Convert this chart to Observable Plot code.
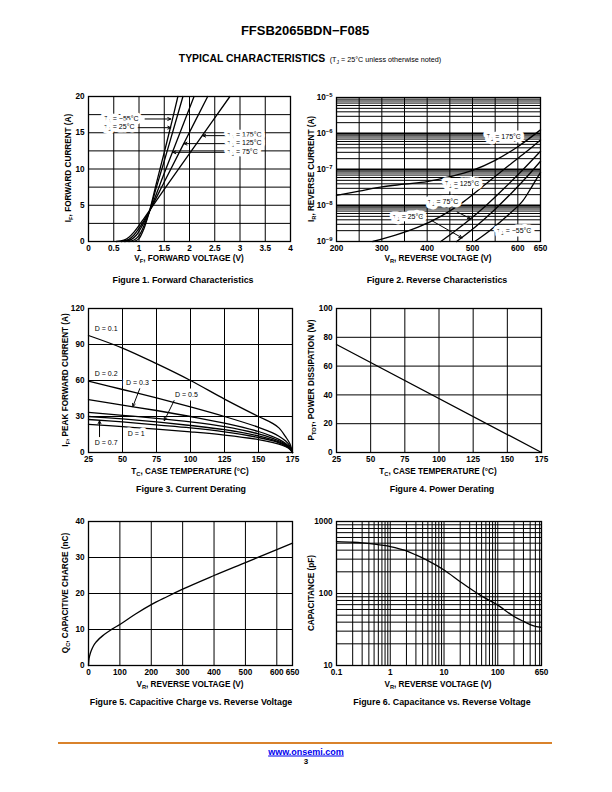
<!DOCTYPE html>
<html><head><meta charset="utf-8">
<script src="https://cdn.jsdelivr.net/npm/d3@7"></script>
<script src="https://cdn.jsdelivr.net/npm/@observablehq/plot@0.6"></script>
<style>
body{margin:0;background:#fff;}
#page{position:relative;width:612px;height:792px;font-family:"Liberation Sans",Arial,Helvetica,sans-serif;color:#000;overflow:hidden;}
.abs{position:absolute;white-space:nowrap;line-height:1;}
sub{font-size:70%;vertical-align:baseline;position:relative;top:0.35em;}
</style></head>
<body><div id="page"></div>
<script>
// ---------------- Figure 1: Forward characteristics ----------------
const f1V_m55 = [0.9, 1.0, 1.1, 1.2, 1.35, 1.5, 1.65, 1.77];
const f1I_m55 = [0, 0.4, 1.8, 4.0, 8.2, 12.3, 16.5, 20];
const f1V_25  = [0.8, 0.9, 1.0, 1.1, 1.2, 1.35, 1.5, 1.7, 1.87];
const f1I_25  = [0, 0.2, 0.8, 2.2, 4.0, 7.6, 11.1, 15.9, 20];
const f1V_75  = [0.72, 0.85, 0.95, 1.05, 1.15, 1.2, 1.5, 1.8, 2.09];
const f1I_75  = [0, 0.3, 0.9, 2.0, 3.3, 4.0, 9.4, 14.8, 20];
const f1V_125 = [0.65, 0.8, 0.9, 1.0, 1.1, 1.2, 1.5, 1.9, 2.36];
const f1I_125 = [0, 0.3, 0.9, 1.8, 2.9, 4.1, 8.2, 13.7, 20];
const f1V_175 = [0.55, 0.7, 0.8, 0.9, 1.0, 1.1, 1.2, 1.6, 2.2, 2.8];
const f1I_175 = [0, 0.2, 0.6, 1.3, 2.2, 3.2, 4.2, 8.2, 14.1, 20];
const f1LabelText = ["TJ = −55°C", "TJ = 25°C", "TJ = 175°C", "TJ = 125°C", "TJ = 75°C"];
const f1LabelV = [0.31, 0.31, 2.75, 2.75, 2.75];
const f1LabelI = [16.9, 15.7, 14.6, 13.5, 12.3];
const f1ArrowFromV = [1.12, 0.97, 2.72, 2.72, 2.72];
const f1ArrowToV = [1.63, 1.63, 2.26, 1.89, 1.67];
const f1TicksX = [0, 0.5, 1, 1.5, 2, 2.5, 3, 3.5, 4];
const f1TicksY = [0, 5, 10, 15, 20];
const f1GridY = [2.5, 5, 7.5, 10, 12.5, 15, 17.5];

// ---------------- Figure 2: Reverse characteristics ----------------
const f2V_175 = [200, 250, 300, 350, 400, 450, 500, 550, 600, 650];
const f2I_175 = [1.9e-8, 2.5e-8, 3.3e-8, 3.9e-8, 4.6e-8, 6.3e-8, 9.5e-8, 1.8e-7, 4.3e-7, 1.26e-6];
const f2V_125 = [280, 330, 380, 430, 480, 530, 580, 620, 650];
const f2I_125 = [1.0e-9, 1.5e-9, 2.5e-9, 5.0e-9, 1.26e-8, 4.0e-8, 1.3e-7, 3.2e-7, 6.6e-7];
const f2V_75  = [430, 460, 496, 530, 570, 610, 650];
const f2I_75  = [1.0e-9, 1.9e-9, 4.3e-9, 1.0e-8, 3.0e-8, 9.5e-8, 3.2e-7];
const f2V_25  = [465, 510, 550, 590, 620, 650];
const f2I_25  = [1.0e-9, 2.8e-9, 7.9e-9, 2.5e-8, 6.3e-8, 1.7e-7];
const f2V_m55 = [505, 540, 580, 610, 630, 650];
const f2I_m55 = [1.0e-9, 2.1e-9, 5.6e-9, 1.3e-8, 3.2e-8, 8.3e-8];
const f2LabelText = ["TJ = 175°C", "TJ = 125°C", "TJ = 75°C", "TJ = 25°C", "TJ = −55°C"];
const f2LabelV = [569, 477, 435, 358, 592];
const f2LabelI = [7.9e-7, 3.9e-8, 1.23e-8, 4.7e-9, 1.9e-9];
const f2ArrowV1 = [466, 410];
const f2ArrowI1 = [6.6e-9, 3.8e-9];
const f2ArrowV2 = [496, 477];
const f2ArrowI2 = [4.3e-9, 1.26e-9];
const f2TicksX = [200, 300, 400, 500, 600, 650];
const f2GridX = [250, 300, 350, 400, 450, 500, 550, 600];
const f2TicksY = [1e-9, 1e-8, 1e-7, 1e-6, 1e-5];

// ---------------- Figure 3: Current derating ----------------
const f3T = [25, 50, 75, 100, 125, 150, 160, 165, 170, 173, 175];
const f3_D01 = [97.5, 87, 74, 60, 44.5, 30, 24.5, 20.5, 13, 7.5, 0];
const f3_D02 = [59.5, 52.5, 45.5, 38, 30, 21, 16.5, 13.5, 9.5, 5.5, 0];
const f3_D03 = [44, 39.5, 35, 30, 24.5, 17.5, 13.5, 11, 7.5, 4.5, 0];
const f3_L4  = [33.5, 31, 28.5, 25.5, 21.5, 15.5, 12, 9.8, 6.8, 4, 0];
const f3_L5  = [30, 28, 25.5, 22.5, 19, 13.8, 10.8, 8.8, 6.1, 3.6, 0];
const f3_L6  = [27.5, 25.5, 23, 20.5, 17.2, 12.5, 9.8, 8, 5.5, 3.2, 0];
const f3_D1  = [23.5, 21.5, 19.5, 17.2, 14.5, 10.8, 8.5, 7, 4.8, 2.8, 0];
const f3LabelText = ["D = 0.1", "D = 0.2", "D = 0.3", "D = 0.5", "D = 1", "D = 0.7"];
const f3LabelT = [38, 38, 61, 97, 60, 38];
const f3LabelI = [103.5, 65.7, 58.3, 48.3, 15.6, 8.1];
const f3ArrowT1 = [63, 88.7, 33.1];
const f3ArrowI1 = [54.1, 44.9, 12.6];
const f3ArrowT2 = [57.6, 80.7, 33.1];
const f3ArrowI2 = [38.2, 26.5, 26.5];
const f3TicksX = [25, 50, 75, 100, 125, 150, 175];
const f3TicksY = [0, 30, 60, 90, 120];

// ---------------- Figure 4: Power derating ----------------
const f4T = [25, 175];
const f4P = [75, 0];
const f4TicksX = [25, 50, 75, 100, 125, 150, 175];
const f4TicksY = [0, 20, 40, 60, 80, 100];

// ---------------- Figure 5: Capacitive charge ----------------
const f5V = [0, 1, 4, 10, 16, 25, 50, 75, 100, 150, 200, 250, 300, 400, 500, 600, 650];
const f5Q = [0, 1.4, 2.8, 4.4, 5.5, 6.6, 8.6, 10.1, 11.4, 14.3, 16.9, 19.1, 21.2, 25.0, 28.6, 32.2, 34.0];
const f5TicksX = [0, 100, 200, 300, 400, 500, 600, 650];
const f5GridX = [100, 200, 300, 400, 500, 600];
const f5TicksY = [0, 10, 20, 30, 40];

// ---------------- Figure 6: Capacitance ----------------
const f6V = [0.1, 0.2, 0.3, 0.5, 1, 2, 3, 5, 10, 20, 30, 50, 100, 200, 300, 400, 500, 650];
const f6C = [525, 515, 505, 485, 448, 390, 343, 286, 212, 146, 118, 92, 69, 48, 41, 37, 35, 34];
const f6TicksX = [0.1, 1, 10, 100];
const f6EndTick = [650];
const f6TicksY = [10, 100, 1000];

// ---------------- helpers ----------------
const page = document.getElementById("page");
const FONT = '"Liberation Sans", Arial, Helvetica, sans-serif';
const ML = 40, MR = 14, MT = 8, MB = 16;
const NS = "http://www.w3.org/2000/svg";

function logGrid(lo, hi, maxV) {
  const out = [];
  for (let d = lo; d < hi; d *= 10) for (let k = 1; k <= 9; k++) {
    const v = +(d * k).toPrecision(3);
    if (v > lo && v < (maxV ?? hi)) out.push(v);
  }
  return out;
}
function series(names, xs, ys) {
  const rows = [];
  names.forEach((n, i) => xs[i].forEach((x, j) => rows.push({s: n, x, y: ys[i][j]})));
  return rows;
}
function ts(text, attrs) {
  const s = document.createElementNS(NS, "tspan");
  s.textContent = text;
  for (const k in attrs) s.setAttribute(k, attrs[k]);
  return s;
}
// sub/superscripts inside SVG text: "TJ…" → T with subscript J, "10^-5" → 10 with superscript −5
function fixScripts(svg) {
  svg.querySelectorAll("text").forEach(t => {
    if (t.childElementCount !== 0) return;
    const s = t.textContent;
    if (s.startsWith("TJ")) {
      t.textContent = "";
      t.append(ts("T"), ts("J", {dy: "0.3em", "font-size": "70%"}), ts(s.slice(2), {dy: "-0.3em"}));
    } else if (s.startsWith("10^")) {
      t.textContent = "";
      t.append(ts("10"), ts(s.slice(3), {dy: "-0.45em", "font-size": "72%"}));
    }
  });
}
function makeChart(box, x, y, marks) {
  const svg = Plot.plot({
    width: box.R - box.L + ML + MR,
    height: box.B - box.T + MT + MB,
    marginLeft: ML, marginRight: MR, marginTop: MT, marginBottom: MB,
    style: {fontFamily: FONT, fontSize: "8.2px", fontWeight: "bold", background: "transparent", color: "#000", overflow: "visible"},
    x: Object.assign({tickSize: 0, tickPadding: 4, label: null}, x),
    y: Object.assign({tickSize: 0, tickPadding: 4, label: null}, y),
    marks
  });
  svg.style.position = "absolute";
  svg.style.left = (box.L - ML) + "px";
  svg.style.top = (box.T - MT) + "px";
  fixScripts(svg);
  page.appendChild(svg);
}
function txt(html, x, y, css, rotate) {
  const d = document.createElement("div");
  d.className = "abs";
  d.innerHTML = html;
  d.style.left = x + "px";
  d.style.top = y + "px";
  d.style.transform = "translate(-50%,-50%)" + (rotate ? " rotate(-90deg)" : "");
  Object.assign(d.style, css);
  page.appendChild(d);
}
const gridStyle = {stroke: "#000", strokeWidth: 1};
const lineStyle = {x: "x", y: "y", z: "s", stroke: "#000", strokeWidth: 1.3, curve: "catmull-rom"};
const labStyle = {fill: "#000", stroke: "#fff", strokeWidth: 7, paintOrder: "stroke", fontSize: 7, fontWeight: "normal"};
const arrowStyle = {stroke: "#000", strokeWidth: 1, headLength: 5, headAngle: 50};
const axisCss = {fontSize: "8.2px", fontWeight: "bold"};
const capCss = {fontSize: "8.9px", fontWeight: "bold"};

// ---------------- Figure 1 ----------------
{
  const box = {L: 88, R: 290, T: 96, B: 241};
  const data = series(["−55", "25", "75", "125", "175"],
    [f1V_m55, f1V_25, f1V_75, f1V_125, f1V_175],
    [f1I_m55, f1I_25, f1I_75, f1I_125, f1I_175]);
  const labels = f1LabelText.map((t, i) => ({t, x: f1LabelV[i], y: f1LabelI[i], x1: f1ArrowFromV[i], x2: f1ArrowToV[i]}));
  makeChart(box,
    {domain: [0, 4], ticks: f1TicksX, tickFormat: d => String(d)},
    {domain: [0, 20], ticks: f1TicksY},
    [
      Plot.ruleX(f1TicksX.slice(1, -1), gridStyle),
      Plot.ruleY(f1GridY, gridStyle),
      Plot.line(data, lineStyle),
      Plot.arrow(labels, {x1: "x1", y1: "y", x2: "x2", y2: "y", ...arrowStyle}),
      Plot.text(labels, {x: "x", y: "y", text: "t", textAnchor: "start", ...labStyle}),
      Plot.frame({stroke: "#000", strokeWidth: 1.3})
    ]);
  txt("I<sub>F</sub>, FORWARD CURRENT (A)", 69, 168, axisCss, true);
  txt("V<sub>F</sub>, FORWARD VOLTAGE (V)", 189, 259, axisCss);
  txt("Figure 1. Forward Characteristics", 183, 280, capCss);
}

// ---------------- Figure 2 ----------------
{
  const box = {L: 336, R: 540, T: 97, B: 241};
  const data = series(["175", "125", "75", "25", "−55"],
    [f2V_175, f2V_125, f2V_75, f2V_25, f2V_m55],
    [f2I_175, f2I_125, f2I_75, f2I_25, f2I_m55]);
  const labels = f2LabelText.map((t, i) => ({t, x: f2LabelV[i], y: f2LabelI[i]}));
  const arrows = f2ArrowV1.map((v, i) => ({x1: v, y1: f2ArrowI1[i], x2: f2ArrowV2[i], y2: f2ArrowI2[i]}));
  makeChart(box,
    {domain: [200, 650], ticks: f2TicksX, tickFormat: d => String(d)},
    {type: "log", domain: [1e-9, 1e-5], ticks: f2TicksY,
     tickFormat: d => "10^" + String(Math.round(Math.log10(d))).replace("-", "−")},
    [
      Plot.ruleX(f2GridX, gridStyle),
      Plot.ruleY(logGrid(1e-9, 1e-5), gridStyle),
      Plot.ruleY(f2TicksY.slice(1, -1), {stroke: "#000", strokeWidth: 2}),
      Plot.line(data, lineStyle),
      Plot.arrow(arrows, {x1: "x1", y1: "y1", x2: "x2", y2: "y2", ...arrowStyle}),
      Plot.text(labels, {x: "x", y: "y", text: "t", textAnchor: "middle", ...labStyle}),
      Plot.frame({stroke: "#000", strokeWidth: 1.3})
    ]);
  txt("I<sub>R</sub>, REVERSE CURRENT (A)", 312, 169, axisCss, true);
  txt("V<sub>R</sub>, REVERSE VOLTAGE (V)", 438, 259, axisCss);
  txt("Figure 2. Reverse Characteristics", 437, 280, capCss);
}

// ---------------- Figure 3 ----------------
{
  const box = {L: 88, R: 292, T: 308, B: 452};
  const ys = [f3_D01, f3_D02, f3_D03, f3_L4, f3_L5, f3_L6, f3_D1];
  const data = series(["0.1", "0.2", "0.3", "l4", "l5", "l6", "1"], ys.map(() => f3T), ys);
  const labels = f3LabelText.map((t, i) => ({t, x: f3LabelT[i], y: f3LabelI[i]}));
  const arrows = f3ArrowT1.map((v, i) => ({x1: v, y1: f3ArrowI1[i], x2: f3ArrowT2[i], y2: f3ArrowI2[i]}));
  makeChart(box,
    {domain: [25, 175], ticks: f3TicksX},
    {domain: [0, 120], ticks: f3TicksY},
    [
      Plot.ruleX(f3TicksX.slice(1, -1), gridStyle),
      Plot.ruleY(f3TicksY.slice(1, -1), gridStyle),
      Plot.line(data, lineStyle),
      Plot.arrow(arrows, {x1: "x1", y1: "y1", x2: "x2", y2: "y2", ...arrowStyle}),
      Plot.text(labels, {x: "x", y: "y", text: "t", textAnchor: "middle", ...labStyle}),
      Plot.frame({stroke: "#000", strokeWidth: 1.3})
    ]);
  txt("I<sub>F</sub>, PEAK FORWARD CURRENT (A)", 66, 380, axisCss, true);
  txt("T<sub>C</sub>, CASE TEMPERATURE (°C)", 190, 472, axisCss);
  txt("Figure 3. Current Derating", 191, 489, capCss);
}

// ---------------- Figure 4 ----------------
{
  const box = {L: 336, R: 541, T: 308, B: 452};
  const data = f4T.map((t, i) => ({s: "p", x: t, y: f4P[i]}));
  makeChart(box,
    {domain: [25, 175], ticks: f4TicksX},
    {domain: [0, 100], ticks: f4TicksY},
    [
      Plot.ruleX(f4TicksX.slice(1, -1), gridStyle),
      Plot.ruleY(f4TicksY.slice(1, -1), gridStyle),
      Plot.line(data, {...lineStyle, curve: "linear"}),
      Plot.frame({stroke: "#000", strokeWidth: 1.3})
    ]);
  txt("P<sub>TOT</sub>, POWER DISSIPATION (W)", 312, 380, axisCss, true);
  txt("T<sub>C</sub>, CASE TEMPERATURE (°C)", 438, 472, axisCss);
  txt("Figure 4. Power Derating", 442, 489, capCss);
}

// ---------------- Figure 5 ----------------
{
  const box = {L: 88, R: 292, T: 521, B: 665};
  const data = f5V.map((v, i) => ({s: "q", x: v, y: f5Q[i]}));
  makeChart(box,
    {domain: [0, 650], ticks: f5TicksX},
    {domain: [0, 40], ticks: f5TicksY},
    [
      Plot.ruleX(f5GridX, gridStyle),
      Plot.ruleY(f5TicksY.slice(1, -1), gridStyle),
      Plot.line(data, {...lineStyle, curve: "monotone-x"}),
      Plot.frame({stroke: "#000", strokeWidth: 1.3})
    ]);
  txt("Q<sub>C</sub>, CAPACITIVE CHARGE (nC)", 66, 593, axisCss, true);
  txt("V<sub>R</sub>, REVERSE VOLTAGE (V)", 190, 685, axisCss);
  txt("Figure 5. Capacitive Charge vs. Reverse Voltage", 191, 702, capCss);
}

// ---------------- Figure 6 ----------------
{
  const box = {L: 336, R: 541, T: 521, B: 665};
  const data = f6V.map((v, i) => ({s: "c", x: v, y: f6C[i]}));
  makeChart(box,
    {type: "log", domain: [0.1, 650], ticks: f6TicksX, tickFormat: d => String(d)},
    {type: "log", domain: [10, 1000], ticks: f6TicksY, tickFormat: d => String(d)},
    [
      Plot.ruleX(logGrid(0.1, 1000, 650), gridStyle),
      Plot.ruleY(logGrid(10, 1000), gridStyle),
      Plot.line(data, {...lineStyle, curve: "monotone-x"}),
      Plot.frame({stroke: "#000", strokeWidth: 1.3}),
      // end-of-axis tick label, placed through the scales
      Plot.text(f6EndTick.map(v => ({x: v, y: 10})), {x: "x", y: "y", text: d => String(d.x), dy: 4, lineAnchor: "top", fontSize: 8.2, fontWeight: "bold", fill: "#000"})
    ]);
  txt("CAPACITANCE (pF)", 312, 593, axisCss, true);
  txt("V<sub>R</sub>, REVERSE VOLTAGE (V)", 438, 685, axisCss);
  txt("Figure 6. Capacitance vs. Reverse Voltage", 442, 702, capCss);
}

// ---------------- Page header and footer ----------------
txt("FFSB2065BDN−F085", 305, 30, {fontSize: "13px", fontWeight: "bold"});
txt('<span style="font-size:10.4px;font-weight:bold">TYPICAL CHARACTERISTICS</span> <span style="font-size:7.2px">(T<sub>J</sub> = 25°C unless otherwise noted)</span>', 310, 57, {});
const rule = document.createElement("div");
rule.className = "abs";
Object.assign(rule.style, {left: "58px", top: "742px", width: "494px", height: "2px", background: "#d9822b"});
page.appendChild(rule);
txt('<span style="color:#0000ee;text-decoration:underline">www.onsemi.com</span>', 306, 752, {fontSize: "9px", fontWeight: "bold"});
txt("3", 306, 762, {fontSize: "8px", fontWeight: "bold"});
</script>
</body></html>
